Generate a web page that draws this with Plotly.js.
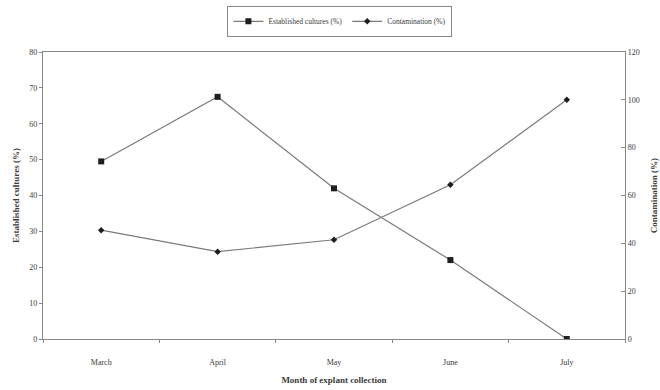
<!DOCTYPE html>
<html>
<head>
<meta charset="utf-8">
<script src="https://cdn.plot.ly/plotly-3.0.1.min.js"></script>
<style>html,body{margin:0;padding:0;background:#fff;}#chart{width:660px;height:390px;}</style>
</head>
<body>
<div id="chart"></div>
<script>
var months = ["March", "April", "May", "June", "July"];
var establishedCultures = [49.5, 67.5, 42, 22, 0];
var contamination = [45.5, 36.5, 41.5, 64.5, 100];
var leftTicks = [0, 10, 20, 30, 40, 50, 60, 70, 80];
var rightTicks = [0, 20, 40, 60, 80, 100, 120];

var fontFam = "Liberation Serif, Times New Roman, serif";
var txt = "#3a3a3a";

var traces = [
  {
    x: months, y: establishedCultures, name: "Established cultures (%)",
    type: "scatter", mode: "lines+markers", yaxis: "y",
    line: {color: "#7a7a7a", width: 1.2},
    marker: {symbol: "square", size: 6, color: "#1e1e1e"}
  },
  {
    x: months, y: contamination, name: "Contamination (%)",
    type: "scatter", mode: "lines+markers", yaxis: "y2",
    line: {color: "#7a7a7a", width: 1.2},
    marker: {symbol: "diamond", size: 5, color: "#1e1e1e"}
  }
];

var layout = {
  width: 660, height: 390,
  margin: {l: 43, r: 35, t: 52, b: 51},
  paper_bgcolor: "#fff", plot_bgcolor: "#fff",
  font: {family: fontFam, size: 8, color: txt},
  showlegend: true,
  legend: {
    orientation: "h", xref: "container", yref: "container",
    x: 0.515, xanchor: "center", y: 0.985, yanchor: "top",
    bordercolor: "#888", borderwidth: 1, font: {size: 7.5, color: txt},
    itemwidth: 30, tracegroupgap: 0
  },
  xaxis: {
    type: "category", categoryorder: "array", categoryarray: months,
    range: [-0.5, 4.5], tickson: "boundaries",
    showline: true, linecolor: "#888", linewidth: 1.2, mirror: true,
    ticks: "outside", ticklen: 3, tickcolor: "#888",
    ticklabelstandoff: 15,
    showgrid: false, zeroline: false,
    tickfont: {size: 8, color: txt},
    title: {text: "<b>Month of explant collection</b>", font: {size: 9, color: txt}, standoff: 11}
  },
  yaxis: {
    range: [0, 80], tickvals: leftTicks,
    showline: true, linecolor: "#888", linewidth: 1.2,
    ticks: "outside", ticklen: 3, tickcolor: "#888",
    showgrid: false, zeroline: false,
    tickfont: {size: 8, color: txt},
    title: {text: "<b>Established cultures (%)</b>", font: {size: 9, color: txt}, standoff: 8}
  },
  yaxis2: {
    range: [0, 120], tickvals: rightTicks, overlaying: "y", side: "right",
    showline: true, linecolor: "#888", linewidth: 1.2,
    ticks: "inside", ticklen: 4, tickcolor: "#888",
    showgrid: false, zeroline: false,
    tickfont: {size: 8, color: txt},
    title: {text: "<b>Contamination (%)</b>", font: {size: 9, color: txt}, standoff: 12}
  }
};

Plotly.newPlot("chart", traces, layout, {displayModeBar: false, staticPlot: true});
</script>
</body>
</html>
